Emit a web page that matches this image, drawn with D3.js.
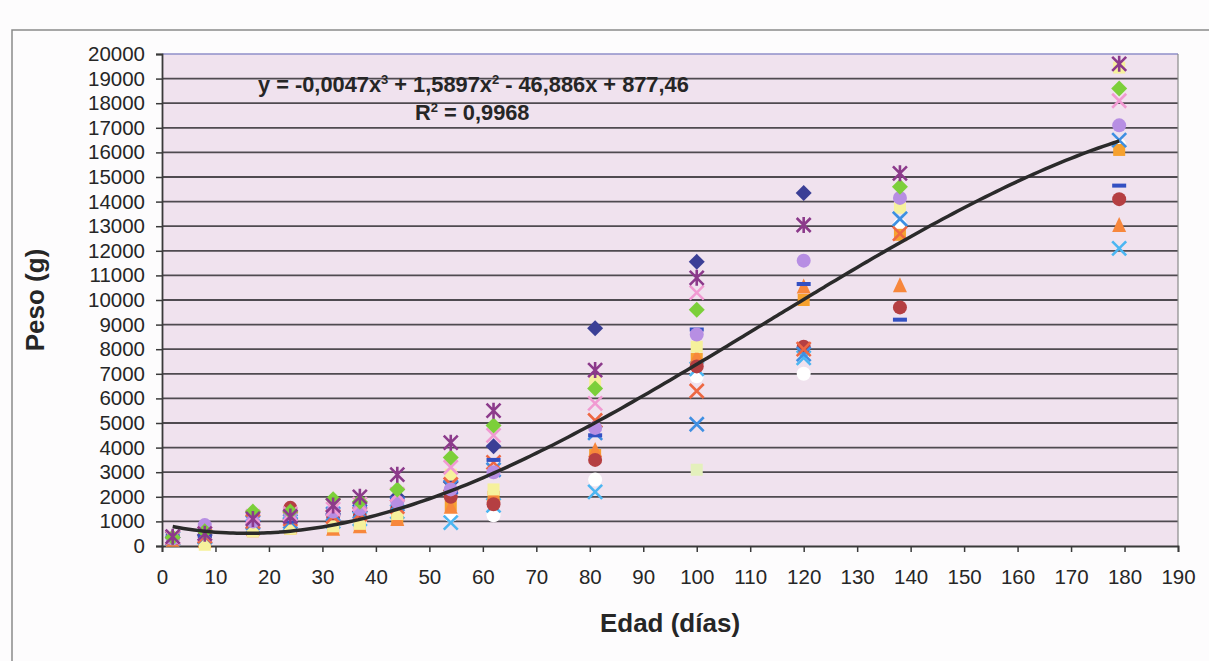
<html>
<head>
<meta charset="utf-8">
<style>
  body { margin: 0; background: #fdfcfd; }
  text { font-family: "Liberation Sans", Arial, sans-serif; fill: #262626; }
</style>
</head>
<body>
<svg id="chart" width="1209" height="661"></svg>
<script src="https://cdn.jsdelivr.net/npm/d3@7"></script>
<script>
// ages (days) where the animals were weighed
let ages = [2, 8, 17, 24, 32, 37, 44, 54, 62, 81, 100, 120, 138, 179]

// one series per animal, weights in grams (null = not measured)
let navyDiamond   = [350, 450, 1000, 1100, 1300, 1400, 2000, 2600, 4050, 8850, 11550, 14350, null, null]
let purpleStar    = [380, 500, 1100, 1200, 1650, 2000, 2900, 4200, 5500, 7150, 10900, 13050, 15150, 19600]
let greenDiamond  = [350, 600, 1400, 1400, 1900, 1800, 2300, 3600, 4900, 6400, 9600, null, 14600, 18600]
let lilacCircle   = [300, 850, 1000, 1300, 1400, 1500, 1800, 2300, 3000, 4800, 8600, 11600, 14150, 17100]
let orangeTri     = [250, 200, 700, 800, 700, 800, 1100, 1600, 2100, 3900, 7700, 10550, 10600, 13050]
let redCircle     = [300, 400, 900, 1550, 1200, 1200, 1500, 2000, 1700, 3500, 7300, 8100, 9700, 14100]
let blueDash      = [400, 400, 900, 1000, 1400, 1600, 1900, 2200, 3500, 4500, 8800, 10650, 9200, 14650]
let pinkX         = [350, 500, 1200, 1300, 1500, 1700, 2100, 3200, 4500, 5800, 10300, null, null, 18100]
let yellowSquare  = [350, 50, 600, 700, 800, 900, 1300, 2900, 2300, 6700, 8100, null, 13750, 19450]
let cyanX         = [300, 350, 800, 900, 1000, 1100, 1400, 950, 1650, 2200, 7200, 7650, 13300, 12100]
let whiteCircle   = [280, 300, 800, 850, 900, 1000, 1200, 1250, 1250, 2700, 6900, 7000, 13050, 16300]
let orangeSquare  = [300, 150, 600, 700, 700, 800, 1100, 1650, 2000, 3700, 7600, 10000, 12650, 16100]
let redX          = [330, 400, 1000, 1100, 1200, 1300, 1600, 2500, 3400, 5100, 6300, 8000, 12700, null]
let blueX         = [320, 380, 950, 1000, 1300, 1400, 1700, 2400, 3100, 4600, 4950, 7800, 13300, 16500]
let paleSquare    = [null, null, null, null, null, null, null, null, null, null, 3100, null, null, null]

// polynomial trendline printed on the chart: a3, a2, a1, a0
let trendCoef = [-0.0047, 1.5897, -46.886, 877.46]

let xTicks = d3.range(0, 191, 10)
let yTicks = d3.range(0, 20001, 1000)

// drawing order: first series ends up underneath
let series = [
    { v: navyDiamond,  shape: "diamond", color: "#3b3f96" },
    { v: paleSquare,   shape: "square",  color: "#e4f0bc" },
    { v: whiteCircle,  shape: "circle",  color: "#ffffff" },
    { v: cyanX,        shape: "x",       color: "#4cb6f2" },
    { v: orangeSquare, shape: "square",  color: "#f6a12f" },
    { v: orangeTri,    shape: "tri",     color: "#f7873c" },
    { v: redCircle,    shape: "circle",  color: "#b53f42" },
    { v: yellowSquare, shape: "square",  color: "#f6f19c" },
    { v: blueX,        shape: "x",       color: "#3f8fe2" },
    { v: redX,         shape: "x",       color: "#ee6843" },
    { v: blueDash,     shape: "dash",    color: "#3350c2" },
    { v: lilacCircle,  shape: "circle",  color: "#b78ee3" },
    { v: pinkX,        shape: "x",       color: "#f19ad2" },
    { v: greenDiamond, shape: "diamond", color: "#7ccf3a" },
    { v: purpleStar,   shape: "star",    color: "#8c3a8b" }
]

let svg = d3.select("#chart")
let plotL = 162, plotR = 1178, plotT = 54, plotB = 546

let x = d3.scaleLinear().domain([0, 190]).range([plotL, plotR])
let y = d3.scaleLinear().domain([0, 20000]).range([plotB, plotT])

// outer frame of the chart object
svg.append("path").attr("d", "M12,661 L12,30 L1209,30")
    .attr("fill", "none").attr("stroke", "#8a8a8a").attr("stroke-width", 1.5)

// plot area
svg.append("rect").attr("x", plotL).attr("y", plotT)
    .attr("width", plotR - plotL).attr("height", plotB - plotT)
    .attr("fill", "#f0e2ee")

// gridlines
svg.append("g").selectAll("line").data(yTicks.filter(d => d > 0 && d < 20000)).join("line")
    .attr("x1", plotL).attr("x2", plotR)
    .attr("y1", d => y(d)).attr("y2", d => y(d))
    .attr("stroke", "#4f4a50").attr("stroke-width", 1.8)

svg.append("line").attr("x1", plotL).attr("x2", plotR).attr("y1", plotT).attr("y2", plotT)
    .attr("stroke", "#8f8fc8").attr("stroke-width", 1.5)
svg.append("line").attr("x1", plotR).attr("x2", plotR).attr("y1", plotT).attr("y2", plotB)
    .attr("stroke", "#8a8a8a").attr("stroke-width", 1.2)

// axes
let yAxis = svg.append("g").attr("transform", `translate(${plotL},0)`)
    .call(d3.axisLeft(y).tickValues(yTicks).tickSize(6).tickPadding(11).tickFormat(d3.format("d")))
let xAxis = svg.append("g").attr("transform", `translate(0,${plotB})`)
    .call(d3.axisBottom(x).tickValues(xTicks).tickSize(6).tickPadding(17).tickFormat(d3.format("d")))

for (let a of [xAxis, yAxis]) {
    a.select(".domain").attr("stroke", "#3a3a3a").attr("stroke-width", 1.8)
    a.selectAll(".tick line").attr("stroke", "#3a3a3a").attr("stroke-width", 1.5)
    a.selectAll(".tick text").attr("font-size", 20.5).attr("fill", "#262626")
        .attr("font-family", "'Liberation Sans', Arial, sans-serif")
}

// markers
function marker(g, shape, color) {
    let s = 7
    if (shape === "diamond") {
        g.append("path").attr("d", `M0,${-s - 1}L${s + 1},0L0,${s + 1}L${-s - 1},0Z`).attr("fill", color)
    } else if (shape === "square") {
        g.append("rect").attr("x", -s + 1).attr("y", -s + 1).attr("width", 2 * s - 2).attr("height", 2 * s - 2).attr("fill", color)
    } else if (shape === "circle") {
        g.append("circle").attr("r", s).attr("fill", color)
    } else if (shape === "tri") {
        g.append("path").attr("d", `M0,${-s - 1}L${s},${s}L${-s},${s}Z`).attr("fill", color)
    } else if (shape === "dash") {
        g.append("rect").attr("x", -s).attr("y", -2).attr("width", 2 * s).attr("height", 4).attr("fill", color)
    } else {
        let d = `M${-s},${-s}L${s},${s}M${-s},${s}L${s},${-s}`
        if (shape === "star") d += `M0,${-s - 1}L0,${s + 1}`
        g.append("path").attr("d", d).attr("stroke", color).attr("stroke-width", 2.6).attr("fill", "none")
    }
}

series.forEach(sr => {
    let pts = ages.map((a, i) => ({ a: a, w: sr.v[i] })).filter(p => p.w !== null)
    svg.append("g").selectAll("g").data(pts).join("g")
        .attr("transform", p => `translate(${x(p.a)},${y(p.w)})`)
        .each(function () { marker(d3.select(this), sr.shape, sr.color) })
})

// trendline
let poly = t => trendCoef[0] * t * t * t + trendCoef[1] * t * t + trendCoef[2] * t + trendCoef[3]
let tx = d3.range(ages[0], ages[ages.length - 1] + 0.01, 1)
svg.append("path")
    .datum(tx)
    .attr("d", d3.line().x(t => x(t)).y(t => y(poly(t))).curve(d3.curveMonotoneX))
    .attr("fill", "none").attr("stroke", "#2a2a2a").attr("stroke-width", 3.5)

// equation
svg.append("text").attr("x", 258).attr("y", 92).attr("font-size", 21.8).attr("font-weight", "bold")
    .html("y = -0,0047x<tspan font-size='13' dy='-8'>3</tspan><tspan dy='8'> + 1,5897x</tspan><tspan font-size='13' dy='-8'>2</tspan><tspan dy='8'> - 46,886x + 877,46</tspan>")
svg.append("text").attr("x", 415).attr("y", 120).attr("font-size", 21.8).attr("font-weight", "bold")
    .html("R<tspan font-size='13' dy='-8'>2</tspan><tspan dy='8'> = 0,9968</tspan>")

// axis titles
svg.append("text").attr("x", 670).attr("y", 632).attr("text-anchor", "middle")
    .attr("font-size", 26).attr("font-weight", "bold").text("Edad (días)")
svg.append("text").attr("transform", "translate(44,300) rotate(-90)").attr("text-anchor", "middle")
    .attr("font-size", 26).attr("font-weight", "bold").text("Peso (g)")
</script>
</body>
</html>
